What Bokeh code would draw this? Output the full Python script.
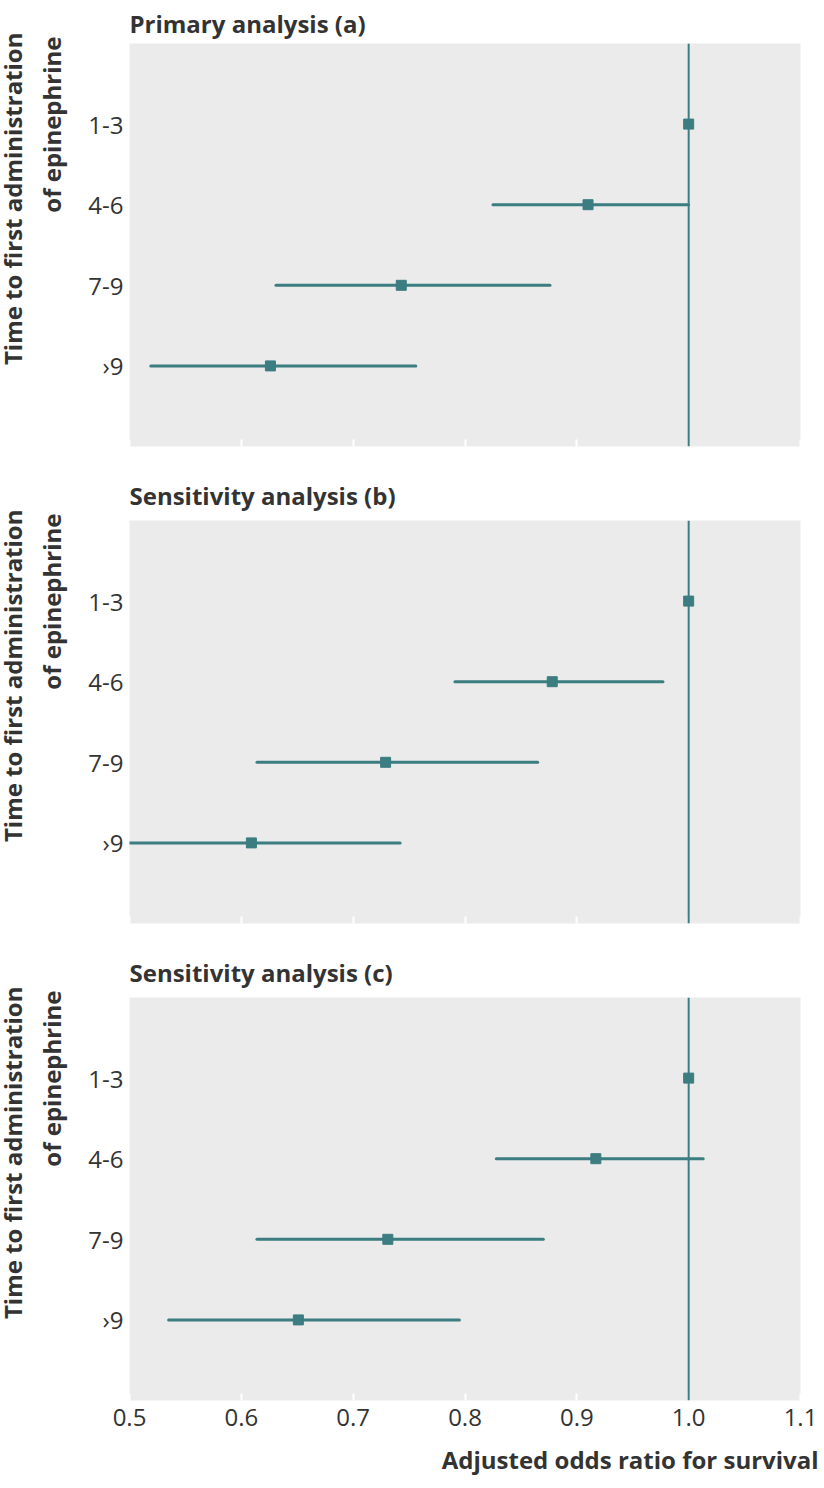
from bokeh.plotting import figure
from bokeh.layouts import column
from bokeh.models import Range1d, FixedTicker, Span, Title, ColumnDataSource
from bokeh.embed import file_html
from bokeh.resources import INLINE

# ---- data ----
groups = ["1-3", "4-6", "7-9", "\u203a9"]
x_ticks = [0.5, 0.6, 0.7, 0.8, 0.9, 1.0, 1.1]
x_tick_labels = ["0.5", "0.6", "0.7", "0.8", "0.9", "1.0", "1.1"]

primary_or = [1.0, 0.910, 0.743, 0.626]
primary_lo = [1.0, 0.825, 0.631, 0.519]
primary_hi = [1.0, 1.000, 0.876, 0.756]

sens_b_or = [1.0, 0.878, 0.729, 0.609]
sens_b_lo = [1.0, 0.791, 0.614, 0.490]
sens_b_hi = [1.0, 0.977, 0.865, 0.742]

sens_c_or = [1.0, 0.917, 0.731, 0.651]
sens_c_lo = [1.0, 0.828, 0.614, 0.535]
sens_c_hi = [1.0, 1.013, 0.870, 0.795]

titles = ["Primary analysis (a)", "Sensitivity analysis (b)", "Sensitivity analysis (c)"]
y_title_lines = ["Time to first administration", "of epinephrine"]
x_title = "Adjusted odds ratio for survival"
reference_or = 1.0

TEAL = "#3b7d80"
TEXT = "#333333"
BG = "#ebebeb"
FONT = "Open Sans"
TITLE_SIZE = "24px"

FRAME_H = 403
FRAME_LEFT = 129
FIG_W = 824
RIGHT_BORDER = 24


def make_panel(title, ors, los, his, top_border, bottom_border, title_standoff, show_x):
    ypos = [i + 1 for i in range(len(groups))]
    height = top_border + FRAME_H + bottom_border
    p = figure(width=FIG_W, height=height, output_backend="svg", toolbar_location=None,
               x_range=Range1d(x_ticks[0], x_ticks[-1]), y_range=Range1d(len(groups) + 1, 0),
               min_border_left=FRAME_LEFT, min_border_right=RIGHT_BORDER,
               min_border_top=top_border, min_border_bottom=bottom_border)
    p.outline_line_color = None
    p.background_fill_color = BG
    p.border_fill_color = "white"
    p.grid.visible = False

    # x axis
    xa = p.xaxis[0]
    xa.ticker = FixedTicker(ticks=x_ticks)
    xa.major_label_overrides = {t: l for t, l in zip(x_ticks, x_tick_labels)}
    xa.axis_line_color = None
    xa.major_tick_in = 7
    xa.major_tick_out = 0
    xa.major_tick_line_color = "white"
    xa.major_tick_line_width = 2
    xa.minor_tick_line_color = None
    if show_x:
        xa.major_label_text_font = FONT
        xa.major_label_text_font_size = "24px"
        xa.major_label_text_color = TEXT
        xa.major_label_standoff = 8
    else:
        xa.major_label_text_font_size = "1px"
        xa.major_label_text_color = None
        xa.major_label_standoff = 0

    # y axis
    ya = p.yaxis[0]
    ya.ticker = FixedTicker(ticks=ypos)
    ya.major_label_overrides = {y: g for y, g in zip(ypos, groups)}
    ya.axis_line_color = None
    ya.major_tick_line_color = None
    ya.minor_tick_line_color = None
    ya.major_tick_in = 0
    ya.major_tick_out = 0
    ya.major_label_standoff = 6
    ya.major_label_text_font = FONT
    ya.major_label_text_font_size = "24px"
    ya.major_label_text_color = TEXT

    p.add_layout(Span(location=reference_or, dimension="height", line_color=TEAL, line_width=2))

    src = ColumnDataSource(dict(y=ypos, orv=ors, lo=los, hi=his))
    p.segment(x0="lo", x1="hi", y0="y", y1="y", source=src, line_color=TEAL,
              line_width=3, line_cap="round")
    p.scatter(x="orv", y="y", source=src, marker="square", size=10,
              fill_color=TEAL, line_color=TEAL)

    # panel title
    p.add_layout(Title(text=title, align="left", text_font=FONT, text_font_size=TITLE_SIZE,
                       text_font_style="bold", text_color=TEXT, standoff=title_standoff), "above")
    # y-axis title, two lines, aligned to the top of the panel
    p.add_layout(Title(text=y_title_lines[1], align="right", offset=-7, text_font=FONT,
                       text_font_size=TITLE_SIZE, text_font_style="bold", text_color=TEXT,
                       standoff=35), "left")
    p.add_layout(Title(text=y_title_lines[0], align="right", offset=-11, text_font=FONT,
                       text_font_size=TITLE_SIZE, text_font_style="bold", text_color=TEXT,
                       standoff=-27), "left")
    if show_x:
        p.add_layout(Title(text=x_title, align="right", offset=-18, text_font=FONT,
                           text_font_size=TITLE_SIZE, text_font_style="bold", text_color=TEXT,
                           standoff=25), "below")
    return p


pa = make_panel(titles[0], primary_or, primary_lo, primary_hi, 43, 10, 7, False)
pb = make_panel(titles[1], sens_b_or, sens_b_lo, sens_b_hi, 64, 10, 17, False)
pc = make_panel(titles[2], sens_c_or, sens_c_lo, sens_c_hi, 64, 88, 17, True)

layout = column(pa, pb, pc, spacing=0)
open("out.html", "w").write(file_html(layout, INLINE))
